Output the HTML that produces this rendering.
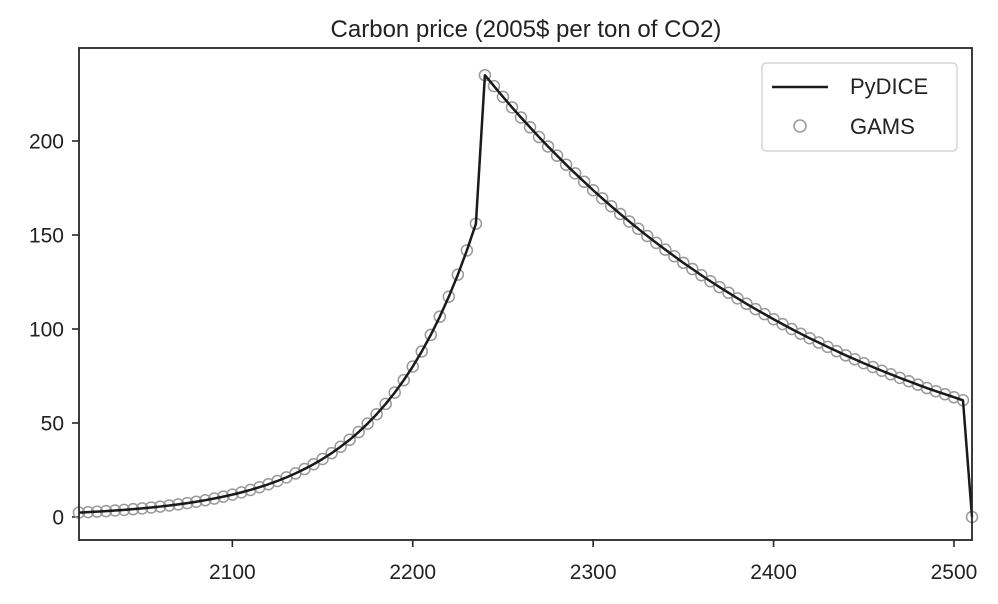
<!DOCTYPE html>
<html><head><meta charset="utf-8"><style>
body{margin:0;background:#fff;}
svg text{font-family:"Liberation Sans",Arial,sans-serif;fill:#222;}
</style></head><body>
<svg id="chart" width="998" height="599" viewBox="0 0 998 599" xmlns="http://www.w3.org/2000/svg">
<text x="526" y="37" font-size="24" text-anchor="middle">Carbon price (2005$ per ton of CO2)</text>
<g id="ticks"></g>
<g id="series"></g>
<rect x="79" y="48" width="893" height="492" fill="none" stroke="#262626" stroke-width="1.8"/>
<g>
<rect x="762" y="63" width="195" height="88" rx="4" fill="#fff" stroke="#ccc" stroke-width="1.2"/>
<line x1="772" y1="87" x2="828" y2="87" stroke="#1a1a1a" stroke-width="2.5"/>
<text x="850" y="94" font-size="22">PyDICE</text>
<circle cx="800" cy="126" r="6" fill="none" stroke="#999" stroke-width="1.6"/>
<text x="850" y="134" font-size="22">GAMS</text>
</g>
</svg>
<script>
const years = [];
for (let y = 2015; y <= 2510; y += 5) years.push(y);
const growthValues = [2.35,2.59,2.85,3.13,3.45,3.79,4.17,4.59,5.05,5.55,6.11,6.72,7.39,8.13,8.94,9.83,10.82,11.90,13.09,14.40,15.84,17.42,19.16,21.08,23.19,25.51,28.06,30.86,33.95,37.35,41.08,45.19,49.71,54.68,60.15,66.16,72.78,80.05,88.06,96.86,106.55,117.2,128.9,141.8,156];
const decayValues = [235,229.2,223.5,217.9,212.5,207.3,202.1,197.1,192.2,187.4,182.8,178.3,173.8,169.5,165.3,161.2,157.2,153.3,149.5,145.8,142.2,138.7,135.2,131.9,128.6,125.4,122.3,119.3,116.3,113.4,110.6,107.9,105.2,102.6,100.0,97.5,95.1,92.8,90.5,88.2,86.0,83.9,81.8,79.8,77.8,75.9,74.0,72.2,70.4,68.6,66.9,65.3,63.7,62.1];
const finalValues = [0];
const pydice = growthValues.concat(decayValues, finalValues);
const gams = growthValues.concat(decayValues, finalValues);
const xTicks = [2100,2200,2300,2400,2500];
const yTicks = [0,50,100,150,200];

const NS = "http://www.w3.org/2000/svg";
const xS = v => 79 + (v - 2015) * (893 / 495);
const yS = v => 517 - v * 1.88;
function mk(tag, attrs, parent){const e=document.createElementNS(NS,tag);for(const k in attrs)e.setAttribute(k,attrs[k]);parent.appendChild(e);return e;}
const tg = document.getElementById('ticks');
xTicks.forEach(t=>{
  const l=mk('line',{x1:xS(t),x2:xS(t),y1:540,y2:547,stroke:'#262626','stroke-width':1.6},tg);
  
  
  const tx=mk('text',{x:xS(t),y:579,'font-size':21,'text-anchor':'middle'},tg);
  tx.textContent=t;
  
  
});
yTicks.forEach(t=>{
  const l=mk('line',{x1:72,x2:79,y1:yS(t),y2:yS(t),stroke:'#262626','stroke-width':1.6},tg);
  
  
  const tx=mk('text',{x:64,y:yS(t)+7.5,'font-size':21,'text-anchor':'end'},tg);
  tx.textContent=t;
  
  
});
const sg = document.getElementById('series');
gams.forEach((v,i)=>{
  const c=mk('circle',{cx:xS(years[i]),cy:yS(v),r:5.5,fill:'none',stroke:'#999','stroke-width':1.5},sg);
  
  
});
const p=mk('polyline',{points:pydice.map((v,i)=>xS(years[i])+','+yS(v)).join(' '),fill:'none',stroke:'#1a1a1a','stroke-width':2.5,'stroke-linejoin':'round'},sg);


</script>
</body></html>
